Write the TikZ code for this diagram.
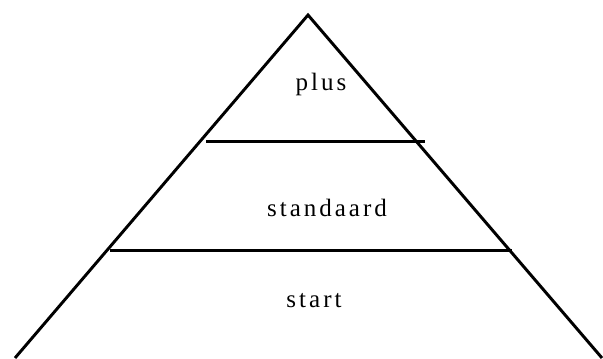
\documentclass[tikz,border=0pt]{standalone}
\usepackage{fontspec}
\setmainfont{Liberation Serif}
\newfontfamily\tierfont[LetterSpace=12]{Liberation Serif}
\begin{document}
\begin{tikzpicture}[x=0.75pt,y=-0.75pt,
    edge/.style={line width=2.2pt},
    tier/.style={font=\tierfont\fontsize{18.75}{22}\selectfont,anchor=base,inner sep=0pt}]
    \useasboundingbox (0,0) rectangle (603,358);
    \clip (0,0) rectangle (603,358);
    \coordinate (apex) at (308,15);
    \coordinate (bl) at (15,358);
    \coordinate (br) at (602,358);
    \draw[edge,line join=miter] (bl) -- (apex) -- (br);
    \coordinate (l1a) at (206,141.5);
    \coordinate (l1b) at (425,141.5);
    \coordinate (l2a) at (110,250.5);
    \coordinate (l2b) at (512,250.5);
    \draw[edge] (l1a) -- (l1b);
    \draw[edge] (l2a) -- (l2b);
    \node[tier] (plus) at (321,90) {plus};
    \node[tier] (standaard) at (327,216) {standaard};
    \node[tier] (start) at (314,307) {start};
\end{tikzpicture}
\end{document}
